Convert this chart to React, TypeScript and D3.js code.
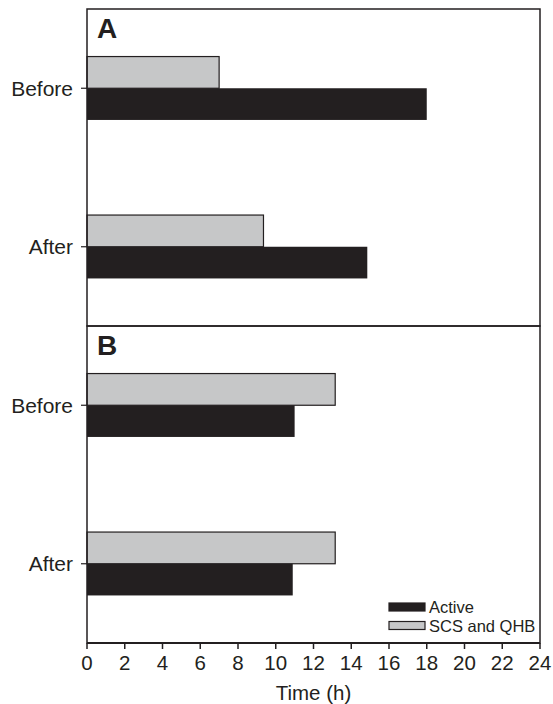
import { useEffect } from "react";
import * as d3 from "d3";

// data
const panels = ["A", "B"];
const categories = ["Before", "After"];
const series = ["SCS and QHB", "Active"];
const scsValues = [
  [7.0, 9.35],
  [13.15, 13.15],
];
const activeValues = [
  [18.0, 14.85],
  [11.0, 10.9],
];
const xTicks = [0, 2, 4, 6, 8, 10, 12, 14, 16, 18, 20, 22, 24];
const legendOrder = ["Active", "SCS and QHB"];

const width = 553;
const height = 704;
const margin = { top: 9, right: 13, bottom: 61, left: 87 };
const ink = "#231f20";
const grey = "#c6c7c8";
const font = "'Liberation Sans', Arial, sans-serif";

export default function App() {
  useEffect(() => {
    document.body.style.margin = "0";
  }, []);

  const innerW = width - margin.left - margin.right;
  const innerH = height - margin.top - margin.bottom;

  const x = d3.scaleLinear().domain([0, 24]).range([0, innerW]);
  const panelY = d3.scaleBand().domain(panels).range([0, innerH]);
  const y = d3.scaleBand().domain(categories).range([0, panelY.bandwidth()]);
  const sub = d3
    .scaleBand()
    .domain(series)
    .range([y.bandwidth() * 0.3, y.bandwidth() * 0.7]);
  const color = d3.scaleOrdinal<string>().domain(series).range([grey, ink]);

  return (
    <svg width={width} height={height} style={{ display: "block", fontFamily: font }}>
      <g transform={`translate(${margin.left},${margin.top})`}>
        {panels.map((p, pi) => {
          const py = panelY(p)!;
          return (
            <g key={p} transform={`translate(0,${py})`}>
              {categories.map((c, ci) => (
                <g key={c} transform={`translate(0,${y(c)})`}>
                  {series.map((s) => {
                    const v = s === "Active" ? activeValues[pi][ci] : scsValues[pi][ci];
                    return (
                      <rect
                        key={s}
                        x={0}
                        y={sub(s)}
                        width={x(v)}
                        height={sub.bandwidth()}
                        fill={color(s)}
                        stroke={ink}
                        strokeWidth={s === "Active" ? 0 : 1.2}
                      />
                    );
                  })}
                  <line
                    x1={-6}
                    x2={0}
                    y1={y.bandwidth() / 2}
                    y2={y.bandwidth() / 2}
                    stroke={ink}
                    strokeWidth={1.2}
                  />
                  <text
                    x={-14}
                    y={y.bandwidth() / 2}
                    dy="0.35em"
                    textAnchor="end"
                    fontSize={21}
                    fill={ink}
                  >
                    {c}
                  </text>
                </g>
              ))}
              <rect
                x={0}
                y={0}
                width={innerW}
                height={panelY.bandwidth()}
                fill="none"
                stroke={ink}
                strokeWidth={1.5}
              />
              <text x={10} y={29} fontSize={28} fontWeight="bold" fill={ink}>
                {p}
              </text>
            </g>
          );
        })}

        {/* x axis */}
        <g transform={`translate(0,${innerH})`}>
          <line x1={0} x2={innerW} y1={0} y2={0} stroke={ink} strokeWidth={1.8} />
          {xTicks.map((t) => (
            <g key={t} transform={`translate(${x(t)},0)`}>
              <line y1={0} y2={6} stroke={ink} strokeWidth={1.5} />
              <text y={27} textAnchor="middle" fontSize={20.5} fill={ink}>
                {t}
              </text>
            </g>
          ))}
          <text x={innerW / 2} y={57} textAnchor="middle" fontSize={20.5} fill={ink}>
            Time (h)
          </text>
        </g>

        {/* legend */}
        <g transform={`translate(${x(16)},${innerH - 40})`}>
          {legendOrder.map((s, i) => (
            <g key={s} transform={`translate(0,${i * 18.5})`}>
              <rect
                x={0}
                y={0}
                width={36}
                height={8}
                fill={color(s)}
                stroke={ink}
                strokeWidth={1.2}
              />
              <text x={40} y={4} dy="0.38em" fontSize={16.5} fill={ink}>
                {s}
              </text>
            </g>
          ))}
        </g>
      </g>
    </svg>
  );
}
